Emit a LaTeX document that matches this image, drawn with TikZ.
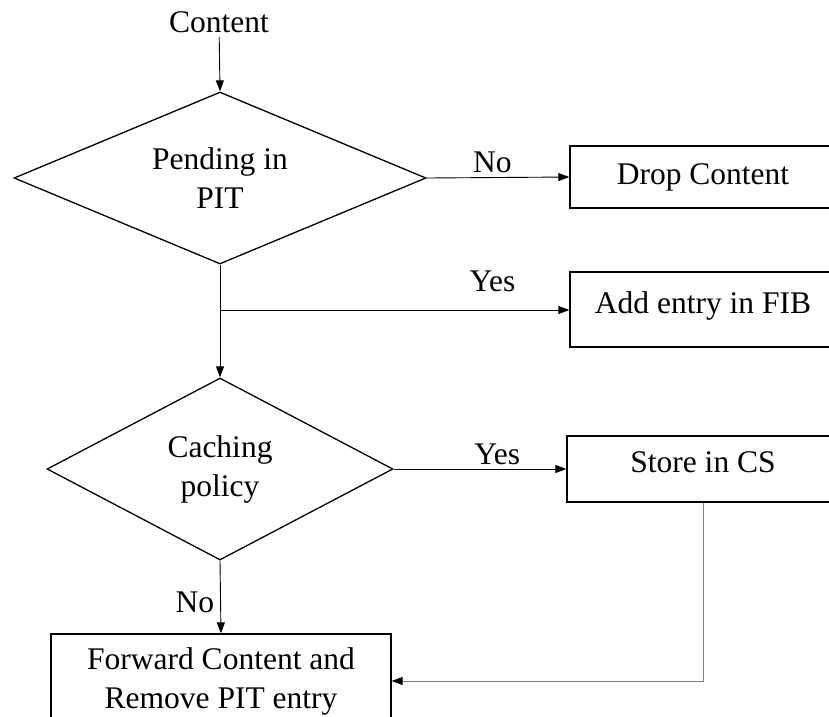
\documentclass[tikz,border=0pt]{standalone}
\usepackage{fontspec}
\setmainfont{Liberation Serif}
\usetikzlibrary{shapes.geometric,arrows.meta}
\begin{document}
\begin{tikzpicture}[x=1pt,y=-1pt,
  every node/.style={font=\fontsize{31.5}{39}\selectfont},
  decision/.style={diamond,draw,line width=1.3pt,inner sep=0pt,align=center},
  stepbox/.style={rectangle,draw,line width=1.3pt,inner sep=0pt,align=center},
  flow/.style={-{Triangle[length=11pt,width=8pt,color=black]},line width=0.9pt},
  lbl/.style={inner sep=0pt}]
\useasboundingbox (0,0) rectangle (829,716);
\clip (0,0) rectangle (829,716);

% nodes
\node[inner sep=4pt] (src) at (219,22) {Content};
\node[decision,shape aspect=2.4,minimum width=412pt,minimum height=172pt] (pit) at (220,178) {Pending in\\PIT};
\node[stepbox,minimum width=266pt,minimum height=62pt] (drop) at (703,177) {Drop Content};
\node[stepbox,minimum width=266pt,minimum height=75pt,text depth=14pt] (fib) at (703,309.5) {Add entry in FIB};
\node[decision,shape aspect=1.9,minimum width=346pt,minimum height=182pt] (cache) at (220,469) {Caching\\policy};
\node[stepbox,minimum width=272pt,minimum height=66pt,text depth=14pt] (cs) at (703,469) {Store in CS};
\node[stepbox,minimum width=340pt,minimum height=94pt] (fwd) at (221,681) {Forward Content and\\Remove PIT entry};
\coordinate (br) at (220,310);

% connectors
\draw[flow] (src) -- (pit.north);
\draw[flow] (pit.east) -- node[lbl,pos=0.46,above=4pt] {No} (drop.west);
\draw[flow] (pit.south) -- (cache.north);
\draw[flow] (br) -- node[lbl,pos=0.78,above=18pt] {Yes} (br -| fib.west);
\draw[flow] (cache.east) -- node[lbl,pos=0.6,above=4pt] {Yes} (cs.west);
\draw[flow] (cache.south) -- node[lbl,pos=0.58,left=6pt] {No} (fwd.north);
\draw[flow,draw=gray] (cs.south) |- (fwd.east);
\end{tikzpicture}
\end{document}
